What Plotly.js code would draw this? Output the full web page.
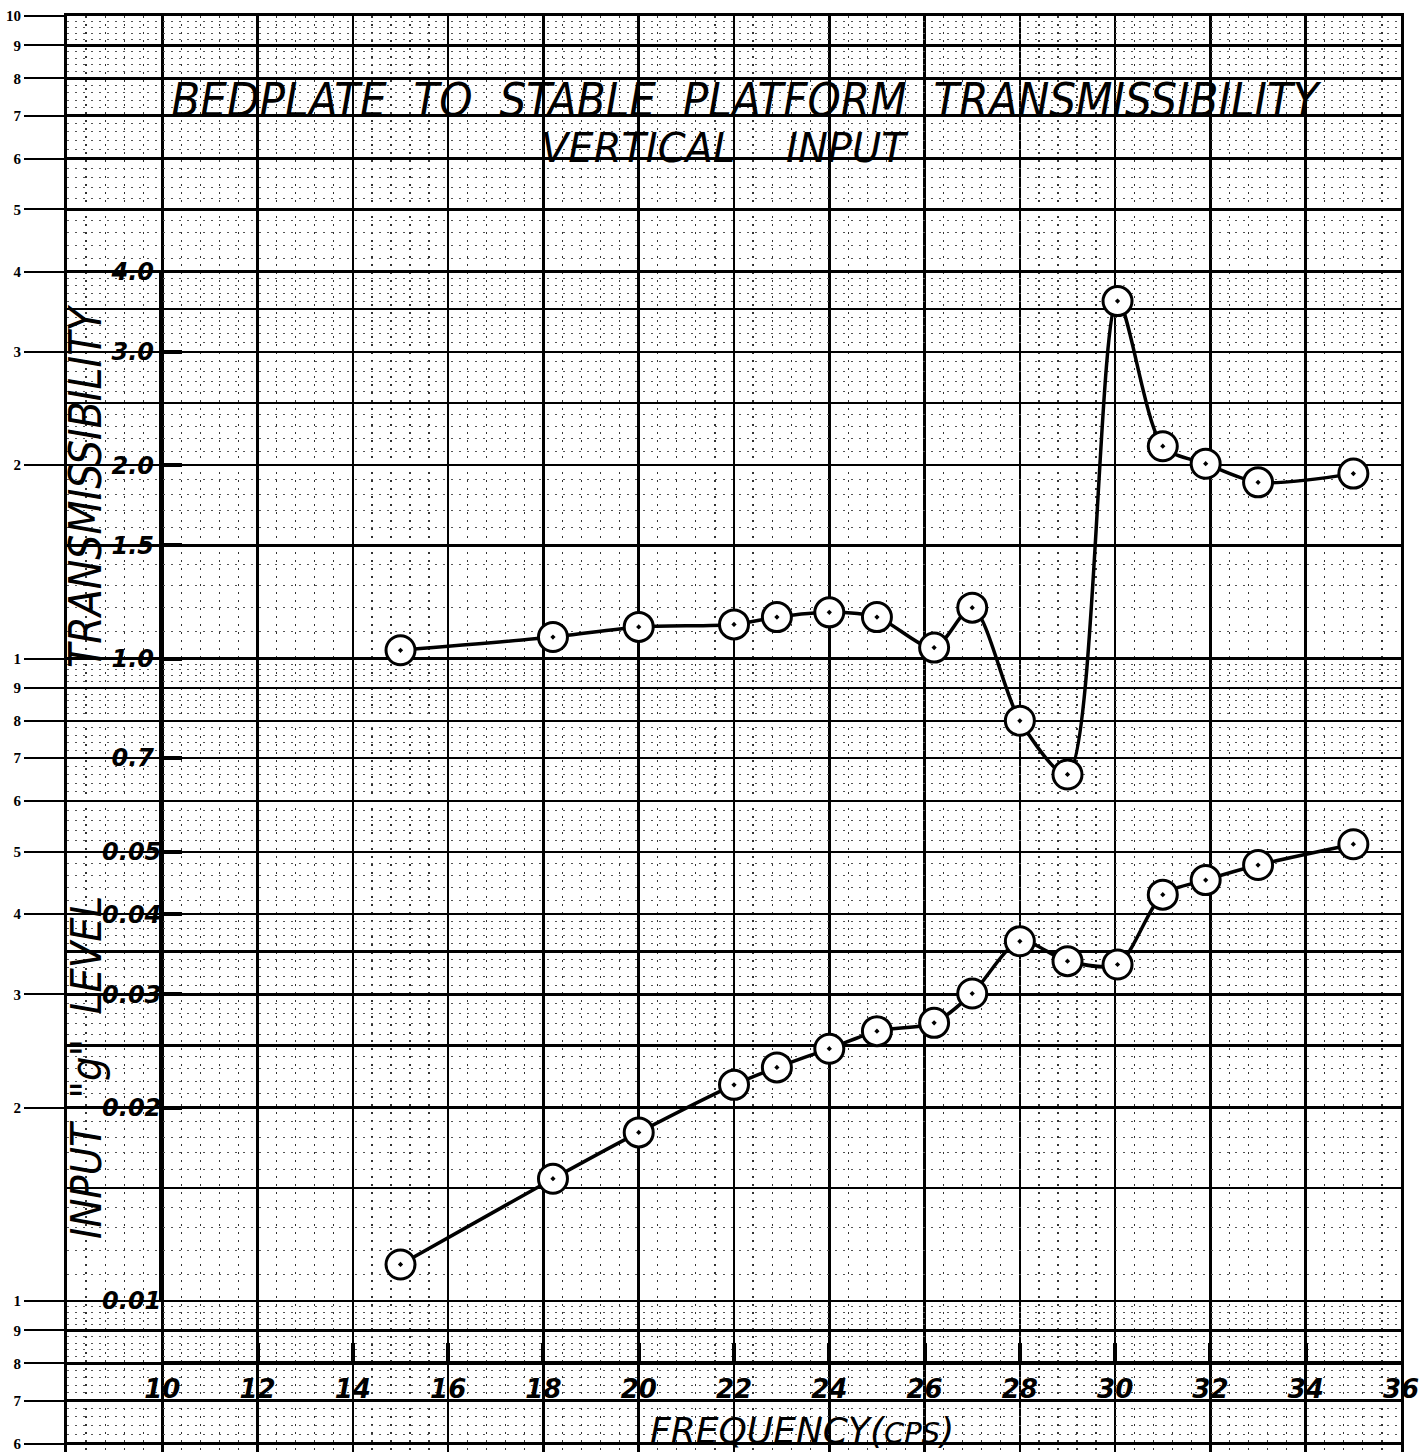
<!DOCTYPE html>
<html>
<head>
<meta charset="utf-8">
<script src="https://cdn.plot.ly/plotly-3.0.1.min.js"></script>
<style>html,body{margin:0;padding:0;background:#fff;}#chart{width:1425px;height:1452px;}</style>
</head>
<body>
<div id="chart"></div>
<script>
// ---- data ----
const frequency = [15.0, 18.2, 20.0, 22.0, 22.9, 24.0, 25.0, 26.2, 27.0, 28.0, 29.0, 30.05, 31.0, 31.9, 33.0, 35.0];
const transmissibility = [1.03, 1.08, 1.12, 1.13, 1.16, 1.18, 1.16, 1.04, 1.20, 0.80, 0.66, 3.60, 2.14, 2.01, 1.88, 1.94];
const inputGLevel = [0.0114, 0.0155, 0.0183, 0.0217, 0.0231, 0.0247, 0.0263, 0.0271, 0.0301, 0.0363, 0.0338, 0.0334, 0.0429, 0.0452, 0.0477, 0.0514];

const freqTicks = [10, 12, 14, 16, 18, 20, 22, 24, 26, 28, 30, 32, 34, 36];
const transTicks = [0.7, 1.0, 1.5, 2.0, 3.0, 4.0];
const transTickText = ['0.7', '1.0', '1.5', '2.0', '3.0', '4.0'];
const gTicks = [0.01, 0.02, 0.03, 0.04, 0.05];
const gTickText = ['0.01', '0.02', '0.03', '0.04', '0.05'];

// graph-paper printed scale (two log cycles)
const paperTicks = [10, 9, 8, 7, 6, 5, 4, 3, 2, 1, 0.9, 0.8, 0.7, 0.6, 0.5, 0.4, 0.3, 0.2, 0.1, 0.09, 0.08, 0.07, 0.06];
const paperTickText = ['10', '9', '8', '7', '6', '5', '4', '3', '2', '1', '9', '8', '7', '6', '5', '4', '3', '2', '1', '9', '8', '7', '6'];

// ---- graph paper rulings ----
const decadeBases = [0.01, 0.1, 1];
const halfRulings = [];
const dotRulings = [];
const yLo = Math.pow(10, -1.235), yHi = 10;
decadeBases.forEach(b => {
  [15, 25, 35].forEach(k => { const v = k / 10 * b; if (v >= yLo && v <= yHi) halfRulings.push(v); });
  for (let k = 11; k <= 39; k++) {
    if (k === 15 || k === 20 || k === 25 || k === 30 || k === 35) continue;
    const v = k / 10 * b; if (v >= yLo && v <= yHi) dotRulings.push(v);
  }
  for (let k = 42; k <= 98; k += 2) {
    if (k % 10 === 0) continue;
    const v = k / 10 * b; if (v >= yLo && v <= yHi) dotRulings.push(v);
  }
});

const W = 1425, H = 1452;
const px = v => v / W;
const py = v => (H - v) / H;

const handFont = 'DejaVu Sans, Liberation Sans, sans-serif';
const narrowFont = 'Liberation Sans Narrow, DejaVu Sans Condensed, Liberation Sans, sans-serif';
const inkFont = {family: handFont, size: 24, color: 'black', weight: 'bold', style: 'italic'};

const markerStyle = {symbol: 'circle-dot', size: 29, color: 'white', line: {color: 'black', width: 3}};
const lineStyle = {color: 'black', width: 3.5, shape: 'spline', smoothing: 0.8};

const traces = [
  {x: [], y: [], xaxis: 'x', yaxis: 'y', type: 'scatter', showlegend: false, hoverinfo: 'skip'},
  {x: [], y: [], xaxis: 'x', yaxis: 'y4', type: 'scatter', showlegend: false, hoverinfo: 'skip'},
  {x: frequency, y: transmissibility, xaxis: 'x2', yaxis: 'y2', type: 'scatter', mode: 'lines+markers',
   name: 'Transmissibility', line: lineStyle, marker: markerStyle, showlegend: false, cliponaxis: false},
  {x: frequency, y: inputGLevel, xaxis: 'x2', yaxis: 'y3', type: 'scatter', mode: 'lines+markers',
   name: 'Input g level', line: lineStyle, marker: markerStyle, showlegend: false, cliponaxis: false}
];

const xDomain = [px(67), px(1401)];
const yDomain = [0, 1 - 16 / H];
const dataYDomain = [py(1301), py(271.7)];

const layout = {
  width: W, height: H,
  margin: {l: 0, r: 0, t: 0, b: 0, pad: 0},
  paper_bgcolor: 'white',
  plot_bgcolor: 'rgba(0,0,0,0)',
  showlegend: false,
  hovermode: false,
  title: {
    text: 'BEDPLATE\u00a0\u00a0TO\u00a0\u00a0STABLE\u00a0\u00a0PLATFORM\u00a0\u00a0TRANSMISSIBILITY',
    x: px(745), xanchor: 'center', xref: 'paper',
    y: py(100), yanchor: 'middle', yref: 'paper',
    font: {family: narrowFont, size: 47, color: 'black', style: 'italic'}
  },
  xaxis: {
    domain: xDomain, range: [8, 36], type: 'linear', anchor: 'y',
    showline: true, linecolor: 'black', linewidth: 3, mirror: true,
    tickmode: 'linear', tick0: 8, dtick: 2, ticks: '', showticklabels: false,
    showgrid: true, gridcolor: 'black', gridwidth: 2.5, zeroline: false,
    minor: {tickmode: 'linear', tick0: 8, dtick: 0.4, ticks: '', showgrid: true, gridcolor: '#333', gridwidth: 1.2, griddash: '2px,6px'},
    fixedrange: true
  },
  yaxis: {
    domain: yDomain, type: 'log', range: [-1.235, 1], anchor: 'x', side: 'left',
    showline: true, linecolor: 'black', linewidth: 3, mirror: true,
    tickmode: 'array', tickvals: paperTicks, ticktext: paperTickText,
    ticks: 'outside', ticklen: 40, tickwidth: 2, tickcolor: 'black',
    tickfont: {family: 'Liberation Serif, DejaVu Serif, serif', size: 15, color: 'black', weight: 'bold'},
    showgrid: true, gridcolor: 'black', gridwidth: 2.5, zeroline: false,
    minor: {tickmode: 'array', tickvals: halfRulings, ticks: '', showgrid: true, gridcolor: 'black', gridwidth: 2.5},
    fixedrange: true
  },
  yaxis4: {
    overlaying: 'y', type: 'log', range: [-1.235, 1], anchor: 'x', side: 'left',
    tickmode: 'array', tickvals: dotRulings, ticks: '', showticklabels: false, showline: false,
    showgrid: true, gridcolor: '#555', gridwidth: 1, griddash: '2px,6px', zeroline: false,
    fixedrange: true
  },
  xaxis2: {
    domain: [px(162.3), px(1401)], range: [10, 36], type: 'linear', anchor: 'free', position: py(1362),
    showline: true, linecolor: 'black', linewidth: 3.5,
    tickmode: 'array', tickvals: freqTicks, ticktext: freqTicks.map(String),
    ticks: 'inside', ticklen: 18, tickwidth: 4, tickcolor: 'black',
    ticklabelstandoff: 2,
    tickfont: {family: handFont, size: 26, color: 'black', weight: 'bold', style: 'italic'},
    showgrid: false, zeroline: false, fixedrange: true
  },
  yaxis2: {
    domain: dataYDomain, type: 'log', range: [-1, Math.log10(4)], anchor: 'x2', side: 'left',
    showline: true, linecolor: 'black', linewidth: 3.5,
    tickmode: 'array', tickvals: transTicks, ticktext: transTickText,
    ticks: 'inside', ticklen: 20, tickwidth: 4, tickcolor: 'black',
    tickfont: inkFont, showgrid: false, zeroline: false, fixedrange: true
  },
  yaxis3: {
    overlaying: 'y2', type: 'log', range: [-2, Math.log10(0.4)], anchor: 'x2', side: 'left',
    showline: false,
    tickmode: 'array', tickvals: gTicks, ticktext: gTickText,
    ticks: 'inside', ticklen: 20, tickwidth: 4, tickcolor: 'black',
    tickfont: inkFont, showgrid: false, zeroline: false, fixedrange: true
  },
  annotations: [
    {text: 'VERTICAL\u00a0\u00a0\u00a0\u00a0INPUT', xref: 'paper', yref: 'paper', x: px(725), y: py(148),
     xanchor: 'center', yanchor: 'middle', showarrow: false,
     font: {family: handFont, size: 40, color: 'black', style: 'italic'}},
    {text: 'FREQUENCY(<span style="font-size:29px">CPS</span>)', xref: 'paper', yref: 'paper', x: px(802), y: py(1430),
     xanchor: 'center', yanchor: 'middle', showarrow: false,
     font: {family: handFont, size: 36, color: 'black', style: 'italic'}},
    {text: 'TRANSMISSIBILITY', xref: 'paper', yref: 'paper', x: px(86), y: py(487), textangle: -90,
     xanchor: 'center', yanchor: 'middle', showarrow: false,
     font: {family: narrowFont, size: 44, color: 'black', style: 'italic'}},
    {text: 'INPUT\u00a0\u00a0"g"\u00a0\u00a0LEVEL', xref: 'paper', yref: 'paper', x: px(86), y: py(1068), textangle: -90,
     xanchor: 'center', yanchor: 'middle', showarrow: false,
     font: {family: narrowFont, size: 43, color: 'black', style: 'italic'}}
  ]
};

Plotly.newPlot('chart', traces, layout, {staticPlot: true, displayModeBar: false});
</script>
</body>
</html>
